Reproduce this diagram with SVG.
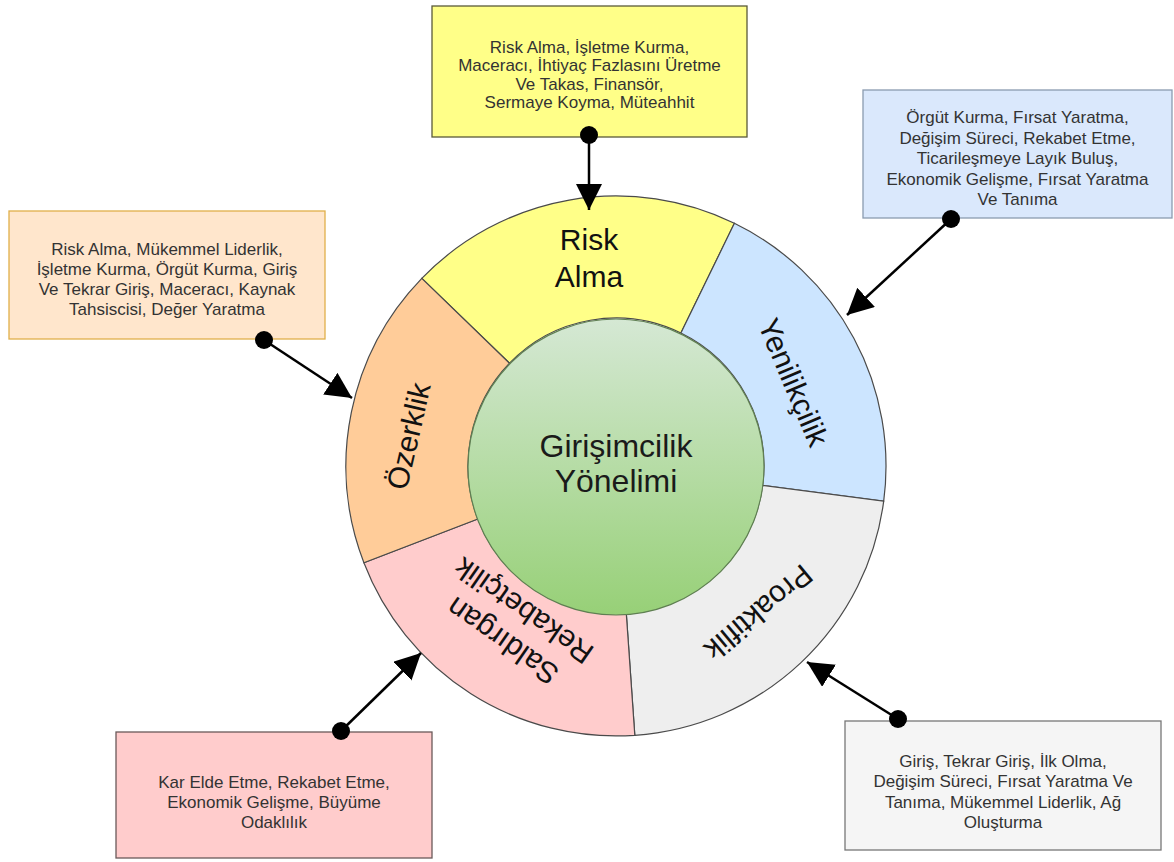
<svg xmlns="http://www.w3.org/2000/svg" width="1174" height="862" viewBox="0 0 1174 862">
<style>
.box{stroke-width:1.3}
.bt{font-family:"Liberation Sans",Arial,sans-serif;font-size:17px;fill:#333;text-anchor:middle}
.seg{stroke:#4a4a4a;stroke-width:1.2}
.sl{font-family:"Liberation Sans",Arial,sans-serif;font-size:30px;fill:#111;text-anchor:middle}
.ct{font-family:"Liberation Sans",Arial,sans-serif;font-size:32px;fill:#1a1a1a;text-anchor:middle}
.con{stroke:#000;stroke-width:2.5;fill:none;marker-end:url(#ah)}
</style>
<defs>
<marker id="ah" markerUnits="userSpaceOnUse" markerWidth="28" markerHeight="28" refX="26" refY="13" orient="auto" viewBox="0 0 28 28">
<path d="M0,0 L26,13 L0,26 Z" fill="#000"/>
</marker>
<linearGradient id="gr" x1="0" y1="0" x2="0" y2="1">
<stop offset="0" stop-color="#d5e8d4"/>
<stop offset="1" stop-color="#97d077"/>
</linearGradient>
</defs>
<rect width="1174" height="862" fill="#fff"/>

<g id="ring">
<g id="seg-risk"><path class="seg" fill="#ffff88" d="M421.8,278.4 A270,270 0 0 1 734.4,223.3 L680.9,333 A148,148 0 0 0 509.5,363.2 Z"/>
<text class="sl" x="589" y="250">Risk</text><text class="sl" x="589" y="287">Alma</text></g>
<g id="seg-yenilikcilik"><path class="seg" fill="#cce5ff" d="M734.4,223.3 A270,270 0 0 1 883.7,501.2 L762.7,485.3 A148,148 0 0 0 680.9,333 Z"/>
<text class="sl" transform="translate(794,382) rotate(67)" y="11">Yenilikçilik</text></g>
<g id="seg-proaktiflik"><path class="seg" fill="#eeeeee" d="M883.7,501.2 A270,270 0 0 1 634.8,735.3 L626.3,613.6 A148,148 0 0 0 762.7,485.3 Z"/>
<text class="sl" transform="translate(759,613) rotate(140)" y="11">Proaktiflik</text></g>
<g id="seg-saldirgan"><path class="seg" fill="#ffcccc" d="M634.8,735.3 A270,270 0 0 1 363.9,562.8 L477.8,519 A148,148 0 0 0 626.3,613.6 Z"/>
<text class="sl" transform="translate(513,626) rotate(-145)"><tspan x="0" y="-8">Saldırgan</tspan><tspan x="0" y="29">Rekabetçilik</tspan></text></g>
<g id="seg-ozerklik"><path class="seg" fill="#ffcc99" d="M363.9,562.8 A270,270 0 0 1 421.8,278.4 L509.5,363.2 A148,148 0 0 0 477.8,519 Z"/>
<text class="sl" transform="translate(408,436) rotate(-77)" y="11">Özerklik</text></g>
</g>

<g id="center">
<circle cx="616" cy="467" r="148" fill="url(#gr)" stroke="#5f7f52" stroke-width="1.2"/>
<text class="ct" x="616" y="457">Girişimcilik</text>
<text class="ct" x="616" y="492">Yönelimi</text>
</g>

<g id="box-risk">
<rect class="box" x="432" y="6" width="315" height="131" fill="#ffff88" stroke="#5a5a3a"/>
<text class="bt"><tspan x="589.5" y="53">Risk Alma, İşletme Kurma,</tspan><tspan x="589.5" y="71.3">Maceracı, İhtiyaç Fazlasını Üretme</tspan><tspan x="589.5" y="89.6">Ve Takas, Finansör,</tspan><tspan x="589.5" y="108">Sermaye Koyma, Müteahhit</tspan></text>
</g>
<g id="box-yenilikcilik">
<rect class="box" x="863" y="90" width="309" height="128" fill="#dae8fc" stroke="#8a9bb0"/>
<text class="bt"><tspan x="1017.5" y="123">Örgüt Kurma, Fırsat Yaratma,</tspan><tspan x="1017.5" y="143.5">Değişim Süreci, Rekabet Etme,</tspan><tspan x="1017.5" y="164">Ticarileşmeye Layık Buluş,</tspan><tspan x="1017.5" y="184.5">Ekonomik Gelişme, Fırsat Yaratma</tspan><tspan x="1017.5" y="205">Ve Tanıma</tspan></text>
</g>
<g id="box-ozerklik">
<rect class="box" x="9" y="211" width="316" height="128" fill="#ffe6cc" stroke="#e0b04a"/>
<text class="bt"><tspan x="167" y="255">Risk Alma, Mükemmel Liderlik,</tspan><tspan x="167" y="275">İşletme Kurma, Örgüt Kurma, Giriş</tspan><tspan x="167" y="295">Ve Tekrar Giriş, Maceracı, Kaynak</tspan><tspan x="167" y="315">Tahsiscisi, Değer Yaratma</tspan></text>
</g>
<g id="box-saldirgan">
<rect class="box" x="116" y="732" width="316" height="126" fill="#ffcccc" stroke="#6a5a5a"/>
<text class="bt"><tspan x="274" y="788">Kar Elde Etme, Rekabet Etme,</tspan><tspan x="274" y="808">Ekonomik Gelişme, Büyüme</tspan><tspan x="274" y="828">Odaklılık</tspan></text>
</g>
<g id="box-proaktiflik">
<rect class="box" x="845" y="721" width="316" height="129" fill="#f5f5f5" stroke="#777"/>
<text class="bt"><tspan x="1003" y="767">Giriş, Tekrar Giriş, İlk Olma,</tspan><tspan x="1003" y="787.3">Değişim Süreci, Fırsat Yaratma Ve</tspan><tspan x="1003" y="807.7">Tanıma, Mükemmel Liderlik, Ağ</tspan><tspan x="1003" y="828">Oluşturma</tspan></text>
</g>

<g id="connectors">
<line class="con" x1="589" y1="135" x2="589" y2="210"/>
<circle cx="589" cy="135" r="9" fill="#000"/>
<line class="con" x1="951" y1="219" x2="847" y2="315"/>
<circle cx="951" cy="219" r="9" fill="#000"/>
<line class="con" x1="264" y1="340" x2="352" y2="398"/>
<circle cx="264" cy="340" r="9" fill="#000"/>
<line class="con" x1="341" y1="731" x2="421" y2="653"/>
<circle cx="341" cy="731" r="9" fill="#000"/>
<line class="con" x1="898" y1="719" x2="807" y2="662"/>
<circle cx="898" cy="719" r="9" fill="#000"/>
</g>
</svg>
